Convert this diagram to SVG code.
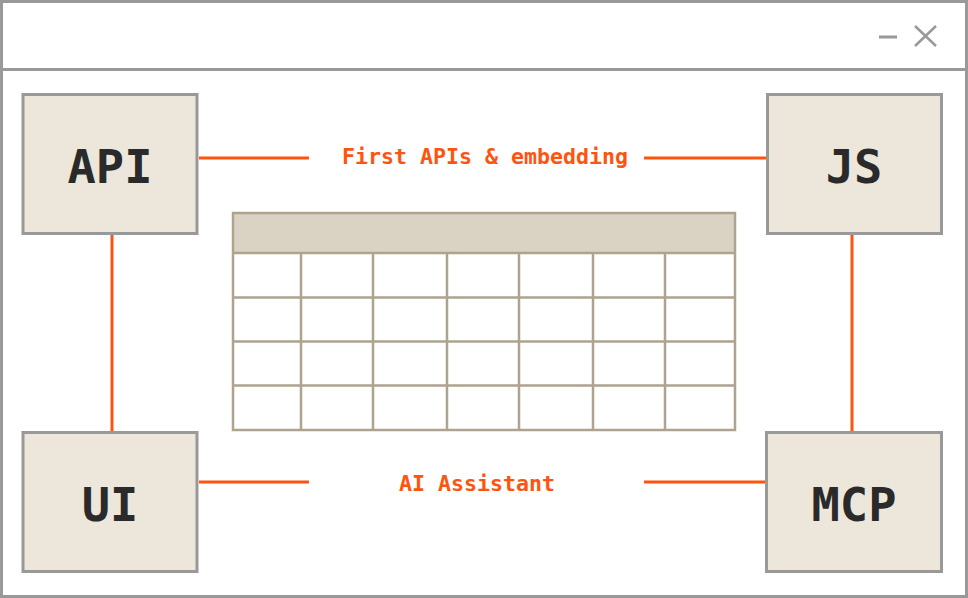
<svg xmlns="http://www.w3.org/2000/svg" width="968" height="598" viewBox="0 0 968 598">
<style>
.frame{fill:none;stroke:#999999;stroke-width:3}
.box{fill:#ECE6DB;stroke:#999999;stroke-width:3}
.nlabel{font-family:"DejaVu Sans Mono","Liberation Mono",monospace;font-weight:bold;font-size:47px;fill:#2A2A2A;text-anchor:middle}
.conn{stroke:#FF5410;stroke-width:3;fill:none}
.clabel{font-family:"DejaVu Sans Mono","Liberation Mono",monospace;font-weight:bold;font-size:21.6px;fill:#FF5410;text-anchor:middle}
.grid{stroke:#ADA38F;stroke-width:2.5;fill:none}
</style>
<rect x="0" y="0" width="968" height="598" fill="#ffffff"/>
<g id="window">
<rect class="frame" x="1.5" y="1.5" width="965" height="595"/>
<line class="frame" x1="1.5" y1="69.5" x2="966.5" y2="69.5"/>
<line class="frame" x1="879" y1="37" x2="897" y2="37"/>
<path d="M915 26 L936 46 M936 26 L915 46" class="frame" style="stroke-width:2.5"/>
</g>
<g id="table">
<rect x="233" y="213" width="502" height="40" fill="#DAD3C4"/>
<rect class="grid" x="233" y="213" width="502" height="217"/>
<path class="grid" d="M233 253H735M233 297.5H735M233 341.5H735M233 385.5H735M301 253V430M373 253V430M447 253V430M519 253V430M593 253V430M665 253V430"/>
</g>
<g id="connectors">
<line class="conn" x1="199" y1="158" x2="309" y2="158"/>
<line class="conn" x1="644" y1="158" x2="766" y2="158"/>
<line class="conn" x1="199" y1="482" x2="309" y2="482"/>
<line class="conn" x1="644" y1="482" x2="766" y2="482"/>
<line class="conn" x1="112" y1="235" x2="112" y2="431"/>
<line class="conn" x1="852" y1="235" x2="852" y2="431"/>
<text class="clabel" x="485" y="164">First APIs &amp; embedding</text>
<text class="clabel" x="477" y="491">AI Assistant</text>
</g>
<g id="node-api">
<rect class="box" x="23" y="94.5" width="174" height="139"/>
<text class="nlabel" x="110" y="183">API</text>
</g>
<g id="node-js">
<rect class="box" x="767.5" y="94.5" width="174" height="139"/>
<text class="nlabel" x="854" y="183">JS</text>
</g>
<g id="node-ui">
<rect class="box" x="23" y="432.5" width="174" height="139"/>
<text class="nlabel" x="110" y="521">UI</text>
</g>
<g id="node-mcp">
<rect class="box" x="766.5" y="432.5" width="175" height="139"/>
<text class="nlabel" x="854" y="521">MCP</text>
</g>
</svg>
